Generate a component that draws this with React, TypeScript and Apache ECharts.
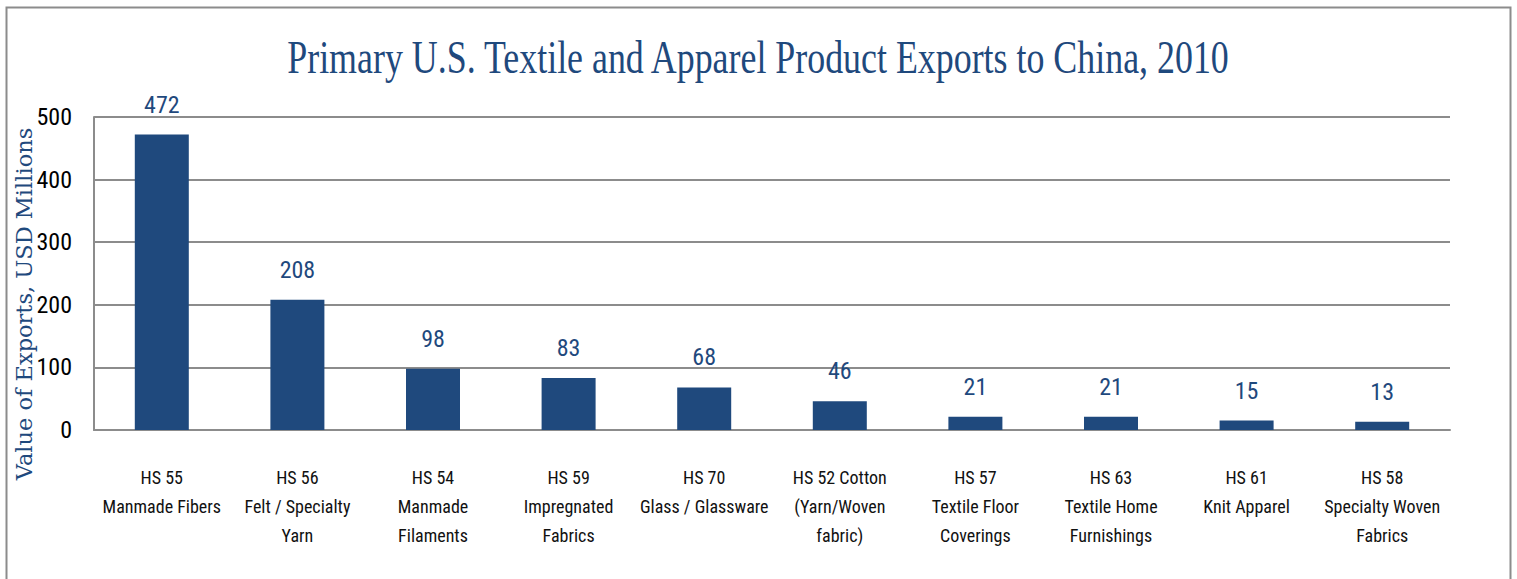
import React, { useEffect, useRef } from "react";
import * as echarts from "echarts";

const categories = [
  "HS 55\nManmade Fibers",
  "HS 56\nFelt / Specialty\nYarn",
  "HS 54\nManmade\nFilaments",
  "HS 59\nImpregnated\nFabrics",
  "HS 70\nGlass / Glassware",
  "HS 52 Cotton\n(Yarn/Woven\nfabric)",
  "HS 57\nTextile Floor\nCoverings",
  "HS 63\nTextile Home\nFurnishings",
  "HS 61\nKnit Apparel",
  "HS 58\nSpecialty Woven\nFabrics",
];
const exportValues = [472, 208, 98, 83, 68, 46, 21, 21, 15, 13];
const titleText = "Primary U.S. Textile and Apparel Product Exports to China, 2010";
const yAxisTitle = "Value of Exports, USD Millions";

const NAVY = "#1F497D";
const GRID_GRAY = "#8c8c8c";
const NARROW = '"Liberation Sans Narrow", "Arial Narrow", "Roboto Condensed", sans-serif';

export default function App() {
  const ref = useRef<HTMLDivElement>(null);
  useEffect(() => {
    if (!ref.current) return;
    const chart = echarts.init(ref.current, undefined, { renderer: "svg" });
    chart.setOption({
      animation: false,
      backgroundColor: "#ffffff",
      grid: { left: 94, right: 67, top: 117, bottom: 149, containLabel: false },
      graphic: [
        {
          type: "rect",
          shape: { x: 6.5, y: 7.5, width: 1504, height: 620 },
          style: { fill: "none", stroke: GRID_GRAY, lineWidth: 2 },
          silent: true,
        },
        {
          type: "text",
          x: 758,
          y: 57,
          scaleX: 0.78,
          style: {
            text: titleText,
            fontFamily: '"Liberation Serif", "Times New Roman", serif',
            fontSize: 46,
            fill: NAVY,
            align: "center",
            verticalAlign: "middle",
          },
        },
        {
          type: "text",
          x: 24,
          y: 304,
          rotation: Math.PI / 2,
          style: {
            text: yAxisTitle,
            fontFamily: '"DejaVu Serif", Georgia, serif',
            fontSize: 22.5,
            fill: NAVY,
            align: "center",
            verticalAlign: "middle",
          },
        },
      ],
      xAxis: {
        type: "category",
        data: categories,
        axisLine: { show: true, lineStyle: { color: GRID_GRAY, width: 2 } },
        axisTick: { show: false },
        axisLabel: {
          interval: 0,
          margin: 33,
          color: "#111",
          fontFamily: NARROW,
          fontSize: 18,
          lineHeight: 29,
          align: "center",
        },
      },
      yAxis: {
        type: "value",
        min: 0,
        max: 500,
        interval: 100,
        axisLine: { show: true, lineStyle: { color: GRID_GRAY, width: 2 } },
        axisTick: { show: false },
        splitLine: { show: true, lineStyle: { color: GRID_GRAY, width: 2 } },
        axisLabel: {
          margin: 22,
          color: "#000",
          fontFamily: NARROW,
          fontSize: 24,
        },
      },
      series: [
        {
          type: "bar",
          data: exportValues,
          barWidth: 54,
          itemStyle: { color: NAVY },
          label: {
            show: true,
            position: "top",
            distance: 18,
            color: NAVY,
            fontFamily: NARROW,
            fontSize: 24,
          },
        },
      ],
    });
    return () => chart.dispose();
  }, []);
  return (
    <div
      ref={ref}
      style={{ position: "absolute", left: 0, top: 0, width: 1517, height: 579 }}
    />
  );
}
